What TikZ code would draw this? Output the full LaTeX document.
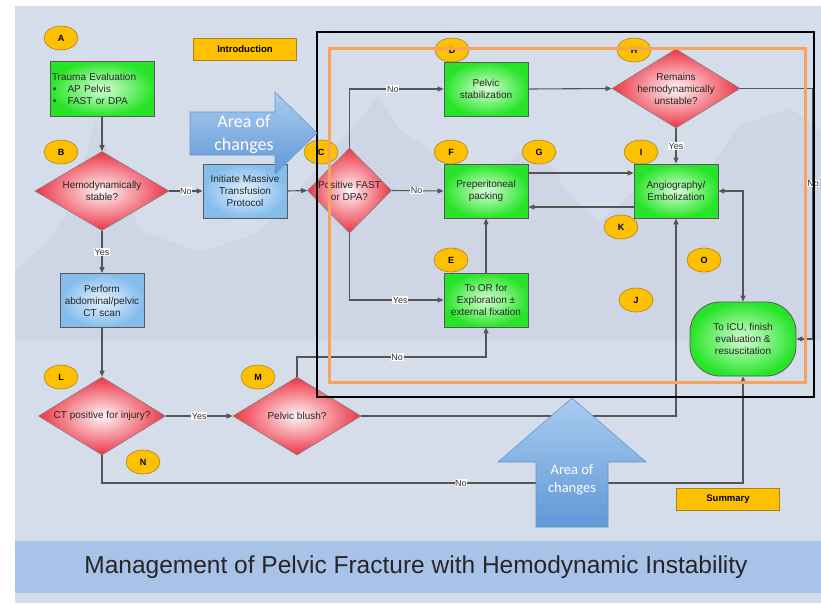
\documentclass[tikz,border=0pt]{standalone}
\usepackage{fontspec}
\setmainfont{Liberation Sans}
\newfontfamily\calib{Carlito}
\usetikzlibrary{shapes.geometric,arrows.meta}
\definecolor{bgc}{RGB}{214,221,234}
\definecolor{mtc}{RGB}{170,182,211}
\definecolor{grn}{RGB}{40,228,40}
\definecolor{grnin}{RGB}{215,255,215}
\definecolor{redc}{RGB}{236,52,68}
\definecolor{redin}{RGB}{255,246,248}
\definecolor{blu}{RGB}{132,188,236}
\definecolor{bluin}{RGB}{228,242,255}
\definecolor{yel}{RGB}{255,192,0}
\definecolor{yeld}{RGB}{170,130,30}
\definecolor{lc}{RGB}{85,85,85}
\definecolor{orf}{RGB}{247,163,92}
\definecolor{band}{RGB}{169,194,231}
\definecolor{arlt}{RGB}{170,204,240}
\definecolor{ardk}{RGB}{96,152,214}
\definecolor{arbd}{RGB}{100,150,205}
\tikzset{
 box/.style={draw=black!65, line width=0.8pt, minimum width=84pt, minimum height=54pt, inner sep=1pt, align=center, font=\fontsize{10}{12}\selectfont, text=black!85},
 gbox/.style={box, inner color=grnin, outer color=grn},
 bbox/.style={box, inner color=bluin, outer color=blu},
 dia/.style={diamond, draw=black!50, line width=0.6pt, inner sep=0pt, inner color=redin, outer color=redc},
 dtxt/.style={align=center, inner sep=0pt, font=\fontsize{10}{12}\selectfont, text=black!85},
 lett/.style={ellipse, fill=yel, draw=yeld, line width=0.6pt, minimum width=34pt, minimum height=24pt, inner sep=0pt, font=\bfseries\fontsize{9}{9}\selectfont},
 conn/.style={draw=lc, line width=1.1pt, -{Triangle[length=6pt,width=5pt]}},
 lbl/.style={fill=white, inner sep=0.6pt, font=\fontsize{9}{9}\selectfont, text=black!80},
 tagbox/.style={fill=yel, draw=yeld, line width=0.8pt, minimum width=103pt, minimum height=22pt, inner sep=0pt, font=\bfseries\fontsize{9.5}{10}\selectfont},
 arr/.style={draw=arbd, line width=0.6pt, top color=arlt, bottom color=ardk},
 artxt/.style={text=white, align=center, inner sep=0pt}
}
\begin{document}
\begin{tikzpicture}[x=1pt,y=-1pt]
\useasboundingbox (0,0) rectangle (821,603);
\fill[white] (0,0) rectangle (821,603);
\fill[bgc] (15,6) rectangle (821,603);
% faint mountains
\fill[mtc, opacity=0.16] (15,270) -- (45,245) -- (75,200) -- (95,120) -- (112,160) -- (140,230) -- (200,252) -- (260,232) -- (320,165) -- (378,97) -- (400,130) -- (430,150) -- (470,205) -- (500,165) -- (540,140) -- (565,190) -- (600,222) -- (640,185) -- (700,182) -- (740,125) -- (790,108) -- (821,130) -- (821,340) -- (15,340) -- cycle;
% title band
\fill[band] (15,541) rectangle (821,593);
\node[font=\fontsize{24.5}{28}\selectfont, text=black!85, inner sep=0pt] (title) at (416,567) {Management of Pelvic Fracture with Hemodynamic Instability};

% letter tags
\node[lett] (lA) at (61,38) {A};
\node[lett] (lB) at (61,152) {B};
\node[lett] (lC) at (321,152) {C};
\node[lett] (lD) at (452,50) {D};
\node[lett] (lE) at (451,260) {E};
\node[lett] (lF) at (451,152) {F};
\node[lett] (lG) at (539,152) {G};
\node[lett] (lH) at (634,50) {H};
\node[lett] (lI) at (641,152) {I};
\node[lett] (lJ) at (636,300) {J};
\node[lett] (lK) at (621,227) {K};
\node[lett] (lL) at (61,377) {L};
\node[lett] (lM) at (258,377) {M};
\node[lett] (lN) at (143,462) {N};
\node[lett] (lO) at (704,260) {O};

\node[tagbox] (intro) at (245,49) {Introduction};
\node[tagbox] (summ) at (728,499) {Summary};

% boxes
\node[gbox, minimum width=104pt, minimum height=55pt, text width=100pt, align=left] (TE) at (102,88.5) {Trauma Evaluation\\\hspace*{1pt}\textbullet\hspace{11pt}AP Pelvis\\\hspace*{1pt}\textbullet\hspace{11pt}FAST or DPA};
\node[bbox] (MTP) at (245,191) {Initiate Massive\\Transfusion\\Protocol};
\node[bbox] (CTS) at (102,300.5) {Perform\\abdominal/pelvic\\CT scan};
\node[gbox] (PS) at (486,89) {Pelvic\\stabilization};
\node[gbox] (PP) at (486,191) {Preperitoneal\\packing};
\node[gbox] (OR) at (486,300) {To OR for\\Exploration \textpm\\external fixation};
\node[gbox] (AE) at (676,191) {Angiography/\\Embolization};
\node[gbox, minimum width=106pt, minimum height=74pt, rounded corners=30pt] (ICU) at (743,339) {To ICU, finish\\evaluation \&\\resuscitation};

% diamonds
\node[dia, minimum width=134pt, minimum height=79pt] (B) at (102,191) {};
\node[dtxt] (Bt) at (B) {Hemodynamically\\stable?};
\node[dia, minimum width=84pt, minimum height=85pt] (C) at (349.5,190.5) {};
\node[dtxt] (Ct) at (C) {Positive FAST\\or DPA?};
\node[dia, minimum width=128pt, minimum height=79pt] (H) at (676,88.5) {};
\node[dtxt] (Ht) at (H) {Remains\\hemodynamically\\unstable?};
\node[dia, minimum width=127pt, minimum height=78pt] (L) at (102,416) {};
\node[dtxt] (Lt) at (L) {CT positive for injury?};
\node[dia, minimum width=128pt, minimum height=78pt] (M) at (297,416) {};
\node[dtxt] (Mt) at (M) {Pelvic blush?};

% helper coordinates
\coordinate (Hr) at (813,88.5);
\coordinate (Mu) at (297,357);
\coordinate (Ld) at (102,483);

% connectors
\draw[conn] (TE.south) -- (B.north);
\draw[conn] (B.east) -- (MTP.west) node[lbl, pos=0.5] {No};
\draw[conn] (MTP.east) -- (C.west);
\draw[conn] (C.north) |- (PS.west) node[lbl, pos=0.73] {No};
\draw[conn] (C.east) -- (PP.west) node[lbl, pos=0.48] {No};
\draw[conn] (C.south) |- (OR.west) node[lbl, pos=0.77] {Yes};
\draw[conn] (OR.north) -- (PP.south);
\draw[conn] (PS.east) -- (H.west);
\draw[conn] (H.south) -- (AE.north) node[lbl, pos=0.5] {Yes};
\draw[conn] (H.east) -- (Hr) |- (ICU.east) node[lbl, pos=0.19] {No};
\draw[conn] ([yshift=18pt]PP.east) -- ([yshift=18pt]AE.west);
\draw[conn] ([yshift=-16pt]AE.west) -- ([yshift=-16pt]PP.east);
\draw[conn, {Triangle[length=6pt,width=5pt]}-{Triangle[length=6pt,width=5pt]}] (AE.east) -| (ICU.north);
\draw[conn] (M.north) -- (Mu) -| (OR.south) node[lbl, pos=0.265] {No};
\draw[conn] (M.east) -| (AE.south);
\draw[conn] (L.east) -- (M.west) node[lbl, pos=0.5] {Yes};
\draw[conn] (L.south) -- (Ld) -| (ICU.south) node[lbl, pos=0.28] {No};
\draw[conn] (B.south) -- (CTS.north) node[lbl, pos=0.5] {Yes};
\draw[conn] (CTS.south) -- (L.north);

% frames
\draw[orf, line width=3pt] (329,48) rectangle (805,382);
\draw[black, line width=2pt] (317,32) rectangle (814,397);

% area of changes arrows
\path[arr] (190,112) -- (275,112) -- (275,92) -- (317,133) -- (275,174) -- (275,155) -- (190,155) -- cycle;
\node[artxt, font=\calib\fontsize{18}{23}\selectfont] (A1) at (244,134) {Area of\\changes};
\path[arr] (572,398) -- (646,462) -- (608,462) -- (608,527) -- (536,527) -- (536,462) -- (498,462) -- cycle;
\node[artxt, font=\calib\fontsize{14.5}{18}\selectfont] (A2) at (572,480) {Area of\\changes};
\end{tikzpicture}
\end{document}
